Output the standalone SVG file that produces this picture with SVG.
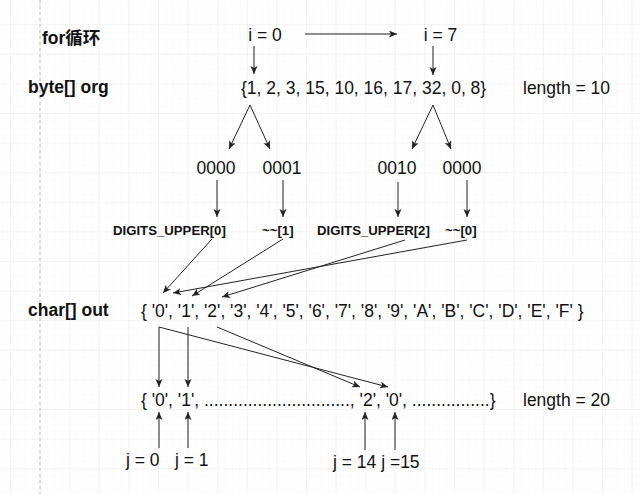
<svg xmlns="http://www.w3.org/2000/svg" width="640" height="494" viewBox="0 0 640 494">
<defs>
<pattern id="minor" patternUnits="userSpaceOnUse" x="10" y="24.2" width="7.4" height="7.4">
<path d="M0,0 H7.4 M0,0 V7.4" fill="none" stroke="#f7f7f7" stroke-width="1"/>
</pattern>
<pattern id="major" patternUnits="userSpaceOnUse" x="10" y="24.2" width="29.6" height="29.6">
<path d="M0,0 H29.6 M0,0 V29.6" fill="none" stroke="#ebebeb" stroke-width="1"/>
</pattern>
<marker id="arr" markerUnits="userSpaceOnUse" markerWidth="10" markerHeight="8" refX="8" refY="3.5" orient="auto">
<path d="M0,0 L8,3.5 L0,7 L2,3.5 z" fill="#222"/>
</marker>
<style>
.t{font-family:"Liberation Sans",Arial,"Noto Sans CJK SC",sans-serif;font-size:17.5px;fill:#111}
.b{font-family:"Liberation Sans",Arial,"Noto Sans CJK SC",sans-serif;font-size:17.5px;font-weight:bold;fill:#111}
.s{font-family:"Liberation Sans",Arial,sans-serif;font-size:13.2px;font-weight:bold;fill:#111}
.c line{stroke:#222;stroke-width:1;marker-end:url(#arr)}
</style>
</defs>
<rect width="640" height="494" fill="#ffffff"/>
<rect width="640" height="494" fill="url(#minor)"/>
<rect width="640" height="494" fill="url(#major)"/>
<line x1="40" y1="0" x2="40" y2="494" stroke="#bdbdbd" stroke-width="1" stroke-dasharray="3,3"/>

<g id="label-for"><text class="b" x="42" y="44">for循环</text></g>
<g id="label-byte"><text class="b" x="28" y="93">byte[] org</text></g>
<g id="i0"><text class="t" x="265" y="41" text-anchor="middle">i = 0</text></g>
<g id="i7"><text class="t" x="440.5" y="41" text-anchor="middle">i = 7</text></g>
<g id="org"><text class="t" x="241" y="94">{1, 2, 3, 15, 10, 16, 17, 32, 0, 8}</text></g>
<g id="len10"><text class="t" x="523" y="94">length = 10</text></g>
<g id="b0"><text class="t" x="216" y="174" text-anchor="middle">0000</text></g>
<g id="b1"><text class="t" x="282" y="174" text-anchor="middle">0001</text></g>
<g id="b2"><text class="t" x="397" y="174" text-anchor="middle">0010</text></g>
<g id="b3"><text class="t" x="462" y="174" text-anchor="middle">0000</text></g>
<g id="d0"><text class="s" x="113" y="235">DIGITS_UPPER[0]</text></g>
<g id="d1"><text class="s" x="262" y="235">~~[1]</text></g>
<g id="d2"><text class="s" x="317" y="235">DIGITS_UPPER[2]</text></g>
<g id="d3"><text class="s" x="445" y="235">~~[0]</text></g>
<g id="label-char"><text class="b" x="28" y="316">char[] out</text></g>
<g id="digits"><text class="t" x="141" y="317">{ '0', '1', '2', '3', '4', '5', '6', '7', '8', '9', 'A', 'B', 'C', 'D', 'E', 'F' }</text></g>
<g id="out"><text class="t" x="141" y="406">{ '0', '1', .............................., '2', '0', ................}</text></g>
<g id="len20"><text class="t" x="523" y="406">length = 20</text></g>
<g id="j0"><text class="t" x="126" y="466">j = 0</text></g>
<g id="j1"><text class="t" x="175" y="466">j = 1</text></g>
<g id="j14"><text class="t" x="333" y="468">j = 14 j =15</text></g>

<g id="connectors" class="c">
<line x1="305" y1="34" x2="397" y2="34"/>
<line x1="254" y1="46" x2="254" y2="74"/>
<line x1="433" y1="46" x2="433" y2="75"/>
<line x1="250" y1="105" x2="229" y2="149"/>
<line x1="250" y1="105" x2="270" y2="149"/>
<line x1="433" y1="105" x2="412" y2="149"/>
<line x1="433" y1="105" x2="451" y2="149"/>
<line x1="217" y1="180" x2="217" y2="217"/>
<line x1="283" y1="180" x2="283" y2="217"/>
<line x1="398" y1="182" x2="398" y2="217"/>
<line x1="467" y1="180" x2="467" y2="217"/>
<line x1="212" y1="239" x2="163" y2="293"/>
<line x1="283" y1="239" x2="192" y2="296"/>
<line x1="405" y1="240" x2="222" y2="297"/>
<line x1="467" y1="240" x2="173" y2="293"/>
<line x1="159" y1="327" x2="159" y2="387"/>
<line x1="188" y1="327" x2="188" y2="387"/>
<line x1="159" y1="327" x2="388" y2="387"/>
<line x1="217" y1="327" x2="360" y2="387"/>
<line x1="159" y1="448" x2="159" y2="412"/>
<line x1="188" y1="448" x2="188" y2="412"/>
<line x1="365" y1="450" x2="365" y2="412"/>
<line x1="395" y1="450" x2="395" y2="412"/>
</g>
</svg>
